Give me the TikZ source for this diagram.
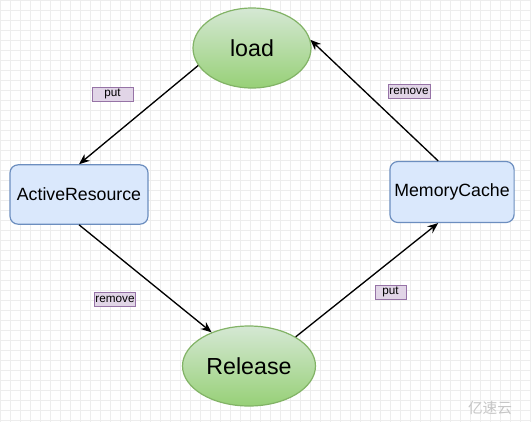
\documentclass[tikz,border=0pt]{standalone}
\usepackage{fontspec}
\setmainfont{Liberation Sans}
\newfontfamily\cjk{Noto Sans CJK SC}
\usepackage{tikz}
\usetikzlibrary{arrows.meta,shapes.geometric}
\definecolor{stategreen}{HTML}{82B366}
\definecolor{stategreentop}{HTML}{D5E8D4}
\definecolor{stategreenbot}{HTML}{97D077}
\definecolor{boxblue}{HTML}{DAE8FC}
\definecolor{boxblueline}{HTML}{6C8EBF}
\definecolor{tagpurple}{HTML}{E1D5E7}
\definecolor{tagpurpleline}{HTML}{9673A6}
\tikzset{
	state/.style={ellipse, draw=stategreen, line width=0.9pt, top color=stategreentop, bottom color=stategreenbot, minimum width=88.5pt, minimum height=60pt, font=\fontsize{17.4}{20}\selectfont},
	cachebox/.style={rectangle, rounded corners=6pt, draw=boxblueline, line width=0.9pt, fill=boxblue, minimum height=44.5pt, font=\fontsize{13.3}{16}\selectfont},
	tag/.style={rectangle, draw=tagpurpleline, line width=0.6pt, fill=tagpurple, inner sep=0.6pt, minimum height=10.5pt, font=\fontsize{8.8}{10}\selectfont},
	flow/.style={line width=1pt, -{Stealth[length=8pt, width=6.5pt]}},
}

\begin{document}
\begin{tikzpicture}[x=0.75pt, y=-0.75pt]
		%%%%% START %%%%%
		
		\useasboundingbox (0, 0) rectangle (531, 422);
		\fill[white] (0, 0) rectangle (531, 422);
		\draw[gray!14, line width=0.4pt, step=7.5pt] (0, 0) grid (531, 422);
		
		\node[state] (load) at (252, 48) {load};
		\node[state] (release) at (249, 366) {Release};
		\node[cachebox, minimum width=103.5pt] (active) at (79, 194.5) {ActiveResource};
		\node[cachebox, minimum width=90pt, minimum height=45.75pt] (memory) at (452, 192) {MemoryCache};
		
		\draw[flow] (load.198) -- (active.north);
		\draw[flow] (active.south) -- (release.138);
		\draw[flow] (release.32) -- (memory.246);
		\draw[flow] (memory.114) -- (load.8);
		
		\node[tag, minimum width=30.75pt] (putA) at (112.5, 94) {put};
		\node[tag, minimum width=30pt] (removeA) at (115, 299) {remove};
		\node[tag, minimum width=23.25pt] (putB) at (390.5, 292) {put};
		\node[tag, minimum width=31.5pt] (removeB) at (409, 91) {remove};
		
		\node[text=gray!45, font=\cjk\fontsize{11}{12}\selectfont] (mark) at (490, 408) {亿速云};
		
		%%%%% END %%%%%
	\end{tikzpicture}
\end{document}
